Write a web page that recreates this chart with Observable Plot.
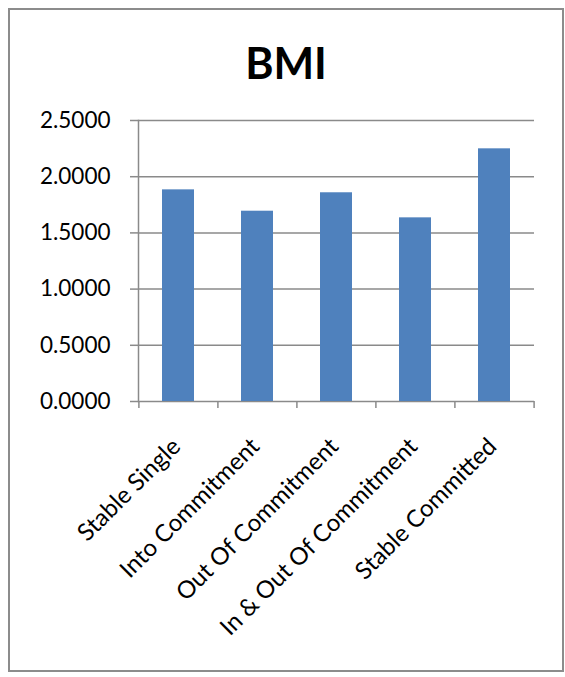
<!DOCTYPE html>
<html>
<head>
<meta charset="utf-8">
<script src="https://cdn.jsdelivr.net/npm/d3@7"></script>
<script src="https://cdn.jsdelivr.net/npm/@observablehq/plot@0.6"></script>
<style>
  html, body { margin: 0; padding: 0; background: #fff; }
  body { width: 565px; height: 677px; position: relative; overflow: hidden; font-family: Lato, "Open Sans", sans-serif; }
  #frame { position: absolute; left: 8px; top: 8px; width: 556px; height: 664px; box-sizing: border-box; border: 2px solid #8c8c8c; }
  #title { position: absolute; left: 0; top: 31px; width: 552px; text-align: center; font-size: 43px; line-height: 43px; font-weight: 700; color: #000; }
  #chart { position: absolute; left: 0; top: 90px; }
</style>
</head>
<body>
<div id="frame">
  <div id="title">BMI</div>
  <div id="chart"></div>
</div>
<script>
const categories = ["Stable Single", "Into Commitment", "Out Of Commitment", "In & Out Of Commitment", "Stable Committed"];
const values = [1.883, 1.693, 1.857, 1.634, 2.248];
const yTicks = [0, 0.5, 1.0, 1.5, 2.0, 2.5];

const data = categories.map((c, i) => ({category: c, value: values[i]}));

const width = 552, height = 567;
const marginLeft = 128, marginRight = 28, marginTop = 20, marginBottom = 266;
const paddingInner = 0.6, paddingOuter = 0.3;
const step = (width - marginLeft - marginRight) / (categories.length - paddingInner + 2 * paddingOuter);
const gridColor = "#8a8a8a";
const fmt = d3.format(".4f");

const chart = Plot.plot({
  width, height, marginLeft, marginRight, marginTop, marginBottom,
  style: {fontFamily: "Lato, 'Open Sans', sans-serif", color: "#000", background: "#fff"},
  x: {type: "band", domain: categories, paddingInner, paddingOuter, axis: null},
  y: {domain: [0, 2.5], axis: null},
  marks: [
    Plot.ruleY(yTicks, {y: d => d, stroke: gridColor, strokeWidth: 1.5}),
    Plot.axisY(yTicks, {label: null, tickSize: 8, stroke: gridColor, strokeWidth: 1.5, tickFormat: () => ""}),
    Plot.text(yTicks, {y: d => d, text: d => fmt(d), frameAnchor: "left", textAnchor: "end", dx: -28, fontSize: 22.5, fill: "#000"}),
    Plot.barY(data, {x: "category", y: "value", fill: "#4f81bd"}),
    Plot.frame({anchor: "left", stroke: gridColor, strokeWidth: 1.5}),
    Plot.axisX(categories, {label: null, tickSize: 7, dx: -step / 2, stroke: gridColor, strokeWidth: 1.5, tickFormat: () => ""}),
    Plot.axisX([categories[categories.length - 1]], {label: null, tickSize: 7, dx: step / 2, stroke: gridColor, strokeWidth: 1.5, tickFormat: () => ""}),
    Plot.text(categories, {x: d => d, frameAnchor: "bottom", rotate: -45, textAnchor: "end", lineAnchor: "middle", dx: -2, dy: 41, fontSize: 24, fill: "#000"})
  ]
});
document.getElementById("chart").appendChild(chart);
</script>
</body>
</html>
